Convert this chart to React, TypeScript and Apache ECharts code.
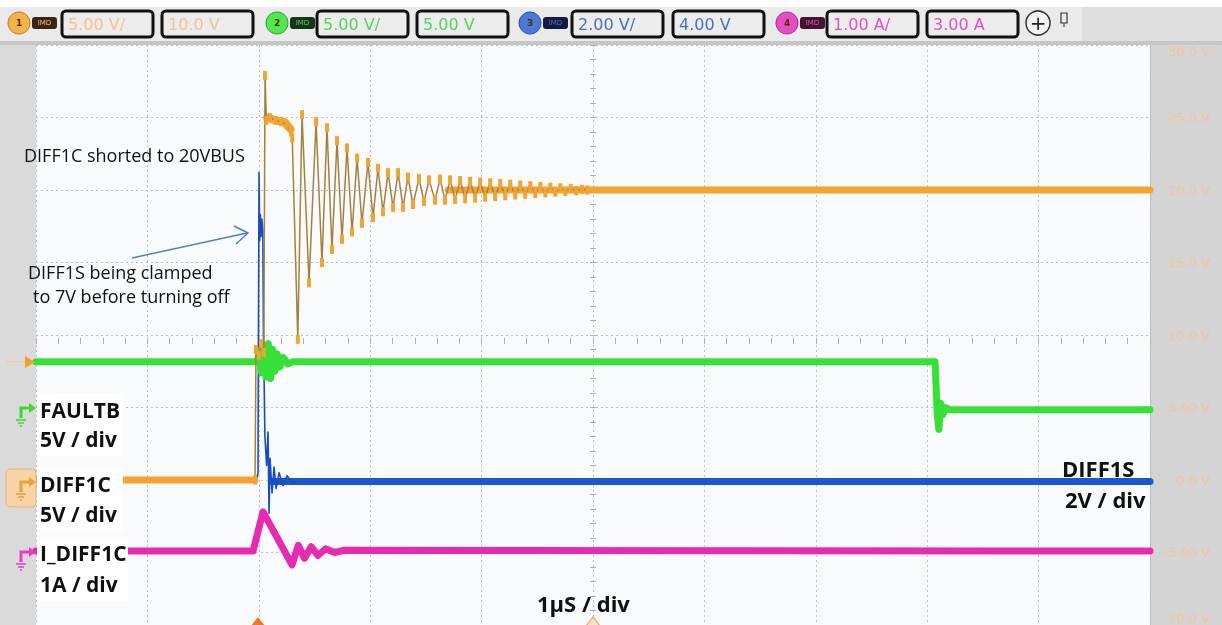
import React, { useEffect, useRef } from "react";
import * as echarts from "echarts";

// ---------- axis definitions ----------
const timeMinNs = -2000;
const timeMaxNs = 8000;
const timeDivNs = 1000;
const yMin = -10;
const yMax = 30;
const yDiv = 5;
const yTickValues = [-10, -5, 0, 5, 10, 15, 20, 25, 30];
const yTickLabels = ["-10.0 V", "-5.00 V", "0.0 V", "5.00 V", "10.0 V", "15.0 V", "20.0 V", "25.0 V", "30.0 V"];

// ---------- channel toolbar ----------
const channelIds = ["1", "2", "3", "4"];
const channelScales = ["5.00 V/", "5.00 V/", "2.00 V/", "1.00 A/"];
const channelOffsets = ["10.0 V", "5.00 V", "4.00 V", "3.00 A"];
const channelColors = ["#f2a431", "#36e036", "#1e56d0", "#e62bb0"];
const channelTextColors = ["#f5c08c", "#55d455", "#4a6fc0", "#e050c4"];

// ---------- traces: [time ns, displayed volts] ----------
// CH1 DIFF1C (orange)
const ch1Before: [number, number][] = [[-2000, 0], [-34, 0]];
const ch1Plateau: [number, number][] = [[75, 25.0], [150, 24.8], [230, 24.7], [285, 24.2]];
const ch1Settled: [number, number][] = [[1700, 20], [8000, 20]];
const ch1Transient: [number, number][] = [
  [-34, 0], [-25, 9.0], [0, 8.6], [20, 9.4], [45, 8.8], [56, 27.9], [68, 24.8],
  [100, 25.0], [150, 24.8], [200, 24.7], [250, 24.5], [290, 24.0], [300, 23.6],
  [350, 9.7], [388, 25.2], [451, 13.6], [514, 24.7], [567, 15.0], [612, 24.3],
  [657, 15.9], [702, 23.4], [747, 16.6], [792, 22.9], [837, 17.1], [882, 22.2],
  [926, 17.7], [980, 21.9], [1025, 18.1], [1070, 21.5], [1115, 18.5], [1160, 21.2],
  [1205, 18.8], [1250, 21.2], [1295, 18.8], [1339, 20.9], [1384, 19.0], [1438, 20.8],
  [1483, 19.2], [1528, 20.7], [1582, 19.3], [1627, 20.75], [1672, 19.3], [1717, 20.7],
  [1762, 19.35], [1807, 20.65], [1852, 19.4], [1897, 20.6], [1942, 19.45], [1987, 20.55],
  [2032, 19.5], [2077, 20.5], [2122, 19.55], [2167, 20.45], [2212, 19.6], [2257, 20.4],
  [2302, 19.65], [2347, 20.35], [2392, 19.7], [2437, 20.3], [2482, 19.75], [2527, 20.25],
  [2572, 19.8], [2617, 20.2], [2662, 19.85], [2707, 20.15], [2752, 19.9], [2800, 20.1],
  [2850, 19.95], [2900, 20.05], [2950, 20.0],
];
// CH2 FAULTB (green)
const ch2Faultb: [number, number][] = [
  [-2000, 8.15], [-15, 8.15], [5, 8.9], [25, 7.4], [45, 9.3], [65, 7.1], [85, 9.4],
  [105, 7.0], [125, 9.0], [145, 7.5], [165, 8.7], [190, 7.8], [220, 8.45], [260, 8.0],
  [300, 8.15], [6070, 8.15], [6080, 6.5], [6090, 4.5], [6105, 3.5], [6120, 5.3],
  [6140, 4.5], [6165, 5.0], [6200, 4.85], [8000, 4.85],
];
// CH3 DIFF1S (blue)
const ch3Baseline: [number, number][] = [[120, -0.1], [8000, -0.1]];
const ch3Spike: [number, number][] = [
  [-20, 0], [-7, 0.5], [2, 21.2], [8, 16.5], [14, 18.3], [20, 16.8], [28, 18.0],
  [36, 17.2], [42, 10], [55, 3], [70, 1.0], [83, 3.3], [92, -2.3], [101, 1.5],
  [119, -0.9], [137, 0.9], [155, -0.6], [182, 0.5], [218, -0.4], [254, 0.3],
  [298, -0.2], [330, -0.1],
];
// CH4 I_DIFF1C (pink)
const ch4Current: [number, number][] = [
  [-2000, -4.9], [-52, -4.9], [38, -2.2], [298, -5.85], [355, -4.5], [410, -5.4],
  [470, -4.6], [530, -5.2], [600, -4.75], [680, -5.0], [760, -4.85], [8000, -4.9],
];

const GRID = { left: 36, right: 72, top: 45, bottom: 0 };

function toolbarGraphics(): any[] {
  const els: any[] = [];
  const circleX = [19, 277, 530, 787];
  const box1X = [62, 317, 572, 827];
  const box2X = [162, 417, 673, 927];
  const circleFill = ["#f3b24a", "#4fe84f", "#4a7ad8", "#e84cc4"];
  const circleStroke = ["#b8782a", "#2a9a2a", "#2a4a9a", "#a02a88"];
  const badgeFill = ["#3a2414", "#17351a", "#161a44", "#45142f"];
  channelIds.forEach((id, i) => {
    els.push({ type: "circle", shape: { cx: circleX[i], cy: 23, r: 11 }, style: { fill: circleFill[i], stroke: circleStroke[i], lineWidth: 1 } });
    els.push({ type: "text", x: circleX[i], y: 23, style: { text: id, fill: "#5a2a00", fontSize: 9, fontWeight: "bold", fontFamily: "DejaVu Sans", align: "center", verticalAlign: "middle" } });
    els.push({ type: "rect", shape: { x: circleX[i] + 13, y: 17, width: 25, height: 12, r: 3 }, style: { fill: badgeFill[i] } });
    els.push({ type: "text", x: circleX[i] + 25.5, y: 23, style: { text: "IMD", fill: channelTextColors[i], fontSize: 7, fontFamily: "DejaVu Sans", align: "center", verticalAlign: "middle" } });
    [box1X[i], box2X[i]].forEach((bx, k) => {
      els.push({ type: "rect", shape: { x: bx, y: 11, width: 91, height: 26, r: 4 }, style: { fill: "#ececec", stroke: "#111", lineWidth: 3 } });
      els.push({ type: "text", x: bx + 6, y: 24, style: { text: k === 0 ? channelScales[i] : channelOffsets[i], fill: channelTextColors[i], fontSize: 16, fontFamily: "DejaVu Sans", verticalAlign: "middle" } });
    });
  });
  els.push({ type: "circle", shape: { cx: 1038, cy: 23, r: 12 }, style: { fill: "#f2f2f2", stroke: "#333", lineWidth: 1.5 } });
  els.push({ type: "text", x: 1038, y: 23, style: { text: "+", fill: "#222", fontSize: 20, fontFamily: "DejaVu Sans", align: "center", verticalAlign: "middle" } });
  els.push({ type: "rect", shape: { x: 1061, y: 13, width: 6, height: 10 }, style: { fill: "none", stroke: "#333", lineWidth: 1.2 } });
  els.push({ type: "line", shape: { x1: 1064, y1: 23, x2: 1064, y2: 27 }, style: { stroke: "#333", lineWidth: 1 } });
  return els;
}

function markerArrow(x: number, y: number, color: string): any[] {
  return [
    { type: "polyline", shape: { points: [[x, y + 10], [x, y], [x + 9, y]] }, style: { stroke: color, lineWidth: 3, fill: "none" }, z: 60 },
    { type: "polygon", shape: { points: [[x + 8, y - 5], [x + 15, y], [x + 8, y + 5]] }, style: { fill: color }, z: 60 },
    { type: "line", shape: { x1: x - 5, y1: y + 12, x2: x + 5, y2: y + 12 }, style: { stroke: color, lineWidth: 1.5 }, z: 60 },
    { type: "line", shape: { x1: x - 3, y1: y + 15, x2: x + 3, y2: y + 15 }, style: { stroke: color, lineWidth: 1.5 }, z: 60 },
    { type: "line", shape: { x1: x - 1, y1: y + 18, x2: x + 1, y2: y + 18 }, style: { stroke: color, lineWidth: 1.5 }, z: 60 },
  ];
}

function overlayGraphics(): any[] {
  const boldFont = { fontFamily: "Open Sans", fontWeight: "bold", fill: "#111" };
  const noteFont = { fontFamily: "Open Sans", fontSize: 18, fill: "#111" };
  const els: any[] = [
    // label boxes
    { type: "rect", shape: { x: 37, y: 394, width: 86, height: 62 }, style: { fill: "#ffffff" }, z: 100 },
    { type: "rect", shape: { x: 37, y: 468, width: 86, height: 62 }, style: { fill: "#ffffff" }, z: 100 },
    { type: "rect", shape: { x: 37, y: 537, width: 91, height: 64 }, style: { fill: "#ffffff" }, z: 100 },
    { type: "text", x: 40, y: 410, style: { text: "FAULTB", fontSize: 21, verticalAlign: "middle", ...boldFont }, z: 101 },
    { type: "text", x: 40, y: 439, style: { text: "5V / div", fontSize: 21, verticalAlign: "middle", ...boldFont }, z: 101 },
    { type: "text", x: 40, y: 484, style: { text: "DIFF1C", fontSize: 21, verticalAlign: "middle", ...boldFont }, z: 101 },
    { type: "text", x: 40, y: 514, style: { text: "5V / div", fontSize: 21, verticalAlign: "middle", ...boldFont }, z: 101 },
    { type: "text", x: 40, y: 553, style: { text: "I_DIFF1C", fontSize: 21, verticalAlign: "middle", ...boldFont }, z: 101 },
    { type: "text", x: 40, y: 584, style: { text: "1A / div", fontSize: 21, verticalAlign: "middle", ...boldFont }, z: 101 },
    { type: "text", x: 1062, y: 468, style: { text: "DIFF1S", fontSize: 22, verticalAlign: "middle", ...boldFont }, z: 101 },
    { type: "text", x: 1065, y: 499, style: { text: "2V / div", fontSize: 22, verticalAlign: "middle", ...boldFont }, z: 101 },
    { type: "text", x: 537, y: 603, style: { text: "1µS / div", fontSize: 22, verticalAlign: "middle", ...boldFont }, z: 101 },
    // annotations
    { type: "text", x: 24, y: 155, style: { text: "DIFF1C shorted to 20VBUS", verticalAlign: "middle", ...noteFont }, z: 101 },
    { type: "text", x: 28, y: 272, style: { text: "DIFF1S being clamped", verticalAlign: "middle", ...noteFont }, z: 101 },
    { type: "text", x: 33, y: 296, style: { text: "to 7V before turning off", verticalAlign: "middle", ...noteFont }, z: 101 },
    { type: "line", shape: { x1: 132, y1: 258, x2: 247, y2: 233 }, style: { stroke: "#4f81bd", lineWidth: 1.5 }, z: 101 },
    { type: "polyline", shape: { points: [[234, 226], [248, 233], [236, 244]] }, style: { stroke: "#4f81bd", lineWidth: 1.5, fill: "none" }, z: 101 },
    // left strip markers
    { type: "line", shape: { x1: 6, y1: 362, x2: 26, y2: 362 }, style: { stroke: "#f4c898", lineWidth: 1.5 }, z: 60 },
    { type: "polygon", shape: { points: [[25, 356], [35, 362], [25, 368]] }, style: { fill: "#f0a030" }, z: 60 },
    { type: "rect", shape: { x: 6, y: 469, width: 30, height: 38, r: 4 }, style: { fill: "#f7d3a6", stroke: "#ebb474", lineWidth: 1 }, z: 59 },
    ...markerArrow(21, 408, "#3ad83a"),
    ...markerArrow(21, 482, "#e9a040"),
    ...markerArrow(21, 552, "#e640c0"),
    // bottom markers
    { type: "polygon", shape: { points: [[251, 626], [258, 617], [265, 626]] }, style: { fill: "#f07a22" }, z: 60 },
    { type: "polygon", shape: { points: [[586, 626], [593, 617], [600, 626]] }, style: { fill: "#fbe3c6", stroke: "#eea868", lineWidth: 1.2 }, z: 60 },
  ];
  return els;
}

function backgroundGraphics(): any[] {
  return [
    { type: "rect", shape: { x: 0, y: 0, width: 1222, height: 45 }, style: { fill: "#ffffff" }, z: -10 },
    { type: "rect", shape: { x: 0, y: 7, width: 1082, height: 35 }, style: { fill: "#eaeaea" }, z: -9 },
    { type: "rect", shape: { x: 1082, y: 7, width: 140, height: 35 }, style: { fill: "#dedede" }, z: -9 },
    { type: "rect", shape: { x: 0, y: 41, width: 1222, height: 4 }, style: { fill: "#c6c6c6" }, z: -9 },
    { type: "rect", shape: { x: 0, y: 45, width: 36, height: 580 }, style: { fill: "#dadada" }, z: -9 },
    { type: "rect", shape: { x: 1150, y: 45, width: 72, height: 580 }, style: { fill: "#d4d4d4" }, z: -9 },
    { type: "line", shape: { x1: 1150.5, y1: 45, x2: 1150.5, y2: 625 }, style: { stroke: "#bdbdbd", lineWidth: 1 }, z: -8 },
  ];
}

function traceSeries(data: [number, number][], color: string, width: number, z: number, extra: any = {}) {
  return {
    type: "line",
    data,
    showSymbol: false,
    silent: true,
    z,
    lineStyle: { color, width, join: "round", cap: "round" },
    itemStyle: { color },
    ...extra,
  };
}

export default function App() {
  const ref = useRef<HTMLDivElement>(null);
  useEffect(() => {
    if (!ref.current) return;
    const chart = echarts.init(ref.current, null, { renderer: "svg" });
    const gridLine = { show: true, lineStyle: { color: "#b8c0c8", type: [2, 3], width: 1 } };
    chart.setOption({
      animation: false,
      backgroundColor: "transparent",
      grid: { ...GRID, show: true, backgroundColor: "#f8fafc", borderWidth: 0 },
      xAxis: [
        {
          type: "value", min: timeMinNs, max: timeMaxNs, interval: timeDivNs,
          axisLine: { show: false }, axisTick: { show: false }, axisLabel: { show: false }, splitLine: gridLine,
        },
        {
          type: "value", position: "bottom", offset: -293, min: timeMinNs, max: timeMaxNs, interval: timeDivNs / 5,
          axisLine: { show: false }, axisLabel: { show: false }, splitLine: { show: false },
          axisTick: { show: true, length: 6, interval: 0, lineStyle: { color: "#aab2ba", width: 1 } },
        },
      ],
      yAxis: [
        {
          type: "value", position: "right", min: yMin, max: yMax, interval: yDiv,
          axisLine: { show: false }, axisTick: { show: false }, splitLine: gridLine,
          axisLabel: {
            show: true,
            formatter: (v: number) => yTickLabels[yTickValues.indexOf(v)] ?? "",
            color: "#f2c596", fontSize: 13, fontFamily: "DejaVu Sans",
            align: "right", margin: 60,
            verticalAlignMaxLabel: "top", verticalAlignMinLabel: "bottom",
          },
        },
        {
          type: "value", position: "left", offset: -554, min: yMin, max: yMax, interval: 1,
          axisLine: { show: false }, axisLabel: { show: false }, splitLine: { show: false },
          axisTick: { show: true, inside: true, length: 6, interval: 0, lineStyle: { color: "#aab2ba", width: 1 } },
        },
      ],
      graphic: { elements: [...backgroundGraphics(), ...toolbarGraphics(), ...overlayGraphics()] },
      series: [
        traceSeries(ch3Baseline, channelColors[2], 7, 2),
        traceSeries(ch3Spike, "#1a4cc0", 1.6, 3),
        traceSeries(ch1Before, channelColors[0], 7, 4),
        traceSeries(ch2Faultb, channelColors[1], 7, 4),
        traceSeries(ch4Current, channelColors[3], 7, 4),
        traceSeries(ch1Settled, channelColors[0], 7, 4),
        traceSeries(ch1Plateau, channelColors[0], 8, 5),
        traceSeries(ch1Transient, "#a5813f", 1.5, 6, {
          showSymbol: true, symbol: "rect", symbolSize: [4, 9],
          itemStyle: { color: channelColors[0] },
        }),
      ],
    });
    return () => chart.dispose();
  }, []);
  return <div ref={ref} style={{ position: "fixed", left: 0, top: 0, width: 1222, height: 625 }} />;
}
